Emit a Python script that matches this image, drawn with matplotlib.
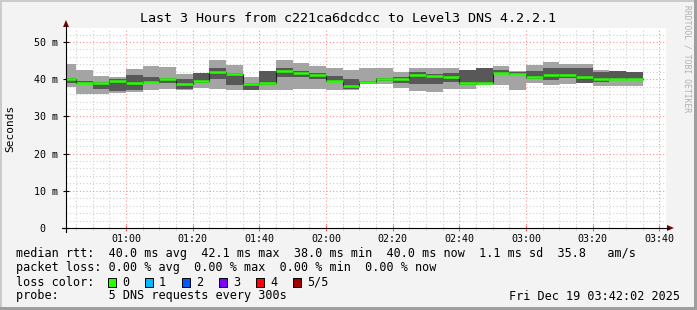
import matplotlib
matplotlib.use("Agg")
import matplotlib.pyplot as plt
from matplotlib.lines import Line2D
from matplotlib.patches import Polygon, Rectangle
import numpy as np

W, H = 697, 310

# --- data (5 DNS pings per 5 min step, values in ms) ---
# step start times in minutes after midnight; first step is cut by the window start
t_window = (42 + 2 / 60, 222 + 2 / 60)
t_edges = np.concatenate([[t_window[0]], np.arange(45, 216, 5)])

ping_min = [38.0, 36.0, 36.0, 36.4, 36.6, 37.1, 37.3, 37.2, 37.7, 37.4, 37.1, 37.0,
            37.1, 37.1, 37.3, 37.5, 37.1, 37.0, 38.6, 38.6, 37.7, 36.9, 36.6, 37.4,
            37.3, 38.5, 38.4, 37.1, 38.9, 38.4, 38.6, 39.0, 38.2, 38.2, 38.2]
ping_lo = [39.1, 38.8, 37.4, 36.8, 37.0, 38.9, 39.1, 37.4, 38.9, 40.0, 38.4, 37.1,
           38.4, 40.7, 40.7, 40.0, 39.2, 37.4, 38.9, 39.5, 38.9, 38.6, 38.6, 39.2,
           38.4, 38.7, 41.6, 41.2, 40.0, 39.8, 40.2, 39.1, 39.3, 39.9, 39.8]
median = [40.0, 39.1, 39.1, 39.6, 39.0, 39.3, 40.0, 38.6, 39.4, 42.0, 41.4, 38.6,
          39.1, 42.1, 41.8, 41.2, 39.6, 38.1, 39.2, 40.0, 40.0, 41.2, 40.9, 40.7,
          39.1, 38.9, 41.8, 41.4, 40.7, 41.2, 41.2, 40.7, 40.0, 40.0, 40.0]
ping_hi = [40.3, 39.4, 39.2, 40.0, 41.1, 40.7, 40.3, 40.0, 41.6, 42.9, 41.6, 39.0,
           42.1, 42.9, 42.3, 41.8, 40.9, 40.0, 39.4, 40.3, 40.5, 42.0, 41.4, 41.8,
           42.5, 42.9, 42.5, 42.0, 42.3, 42.9, 42.9, 42.9, 42.0, 42.2, 41.9]
ping_max = [44.1, 42.5, 40.9, 40.6, 42.7, 43.6, 43.2, 41.4, 41.7, 45.2, 43.8, 40.5,
            42.2, 45.2, 44.4, 43.6, 42.9, 42.5, 42.9, 42.9, 42.0, 42.9, 42.9, 42.9,
            42.6, 43.0, 43.5, 42.1, 43.8, 44.5, 44.1, 44.1, 42.5, 42.3, 42.0]

x_ticks = [60, 80, 100, 120, 140, 160, 180, 200, 220]
x_labels = ["01:00", "01:20", "01:40", "02:00", "02:20", "02:40", "03:00", "03:20", "03:40"]
y_ticks = [0, 10, 20, 30, 40, 50]
y_labels = ["0  ", "10 m", "20 m", "30 m", "40 m", "50 m"]

loss_labels = ["0", "1", "2", "3", "4", "5/5"]
loss_colors = ["#26ff00", "#00b8ff", "#0059ff", "#7e00ff", "#ff0000", "#a10000"]

title = "Last 3 Hours from c221ca6dcdcc to Level3 DNS 4.2.2.1"
legend_lines = [
    "median rtt:  40.0 ms avg  42.1 ms max  38.0 ms min  40.0 ms now  1.1 ms sd  35.8   am/s",
    "packet loss: 0.00 % avg  0.00 % max  0.00 % min  0.00 % now",
    "loss color:",
    "probe:       5 DNS requests every 300s",
]
stamp = "Fri Dec 19 03:42:02 2025"

MONO = "DejaVu Sans Mono"
plt.rcParams["font.family"] = MONO


def fx(x):
    return x / W


def fy(y):
    return 1 - y / H


fig = plt.figure(figsize=(W / 100, H / 100), dpi=100)
fig.patch.set_facecolor("#f3f3f3")

# frame shading like rrdtool
fig.add_artist(Rectangle((0, fy(2)), 1, 2 / H, transform=fig.transFigure, color="#cbcbcb", lw=0))
fig.add_artist(Rectangle((0, 0), 2 / W, 1, transform=fig.transFigure, color="#cbcbcb", lw=0))
fig.add_artist(Rectangle((fx(W - 3), 0), 3 / W, 1, transform=fig.transFigure, color="#9e9e9e", lw=0))
fig.add_artist(Rectangle((0, 0), 1, 3 / H, transform=fig.transFigure, color="#9e9e9e", lw=0))

ax = fig.add_axes([fx(66), fy(228), 600 / W, 200 / H])
ax.set_facecolor("white")
ax.set_xlim(*t_window)
ax.set_ylim(0, 200 / 3.72)

# grid (below data)
for m in np.arange(45, 222, 5):
    c = "#ff9090" if m % 20 == 0 else "#d0d0d0"
    ax.axvline(m, color=c, lw=0.8, ls=(0, (1, 2)), zorder=0)
for v in np.arange(2, 54, 2):
    c = "#ff9090" if v % 10 == 0 else "#d0d0d0"
    ax.axhline(v, color=c, lw=0.8, ls=(0, (1, 2)), zorder=0)

left = t_edges[:-1]
widths = np.diff(t_edges)
ping_min = np.array(ping_min)
ping_max = np.array(ping_max)
ping_lo = np.array(ping_lo)
ping_hi = np.array(ping_hi)
median = np.array(median)

# smoke
ax.bar(left, ping_max - ping_min, bottom=ping_min, width=widths, align="edge",
       color="#a4a4a4", lw=0, zorder=2)
ax.bar(left, ping_hi - ping_lo, bottom=ping_lo, width=widths, align="edge",
       color="#585858", lw=0, zorder=3)
# median: dark step line + loss colored bars
ax.step(t_edges, np.append(median, median[-1]), where="post", color="#202020", lw=0.8, zorder=4)
ax.hlines(median, left, t_edges[1:], color=loss_colors[0], lw=1.8, zorder=5, capstyle="butt")

for s in ax.spines.values():
    s.set_visible(False)

ax.set_xticks(x_ticks)
ax.set_xticklabels(x_labels)
ax.set_xticks(np.arange(45, 222, 5), minor=True)
ax.set_yticks(y_ticks)
ax.set_yticklabels(y_labels)
ax.tick_params(axis="x", which="major", direction="inout", length=4, color="#ff6060",
               labelsize=7.2, pad=2.5)
ax.tick_params(axis="x", which="minor", direction="inout", length=3, color="#c0c0c0")
ax.tick_params(axis="y", which="major", direction="inout", length=5, color="black",
               labelsize=7.2, pad=3)

# axes with arrows
fig.add_artist(Line2D([fx(66), fx(66)], [fy(232), fy(25)], transform=fig.transFigure,
                      color="black", lw=0.8))
fig.add_artist(Line2D([fx(62), fx(669)], [fy(228), fy(228)], transform=fig.transFigure,
                      color="black", lw=0.8))
fig.add_artist(Polygon([(fx(66), fy(20)), (fx(63), fy(27)), (fx(69), fy(27))],
                       transform=fig.transFigure, color="#800000", lw=0))
fig.add_artist(Polygon([(fx(674), fy(228)), (fx(667), fy(225)), (fx(667), fy(231))],
                       transform=fig.transFigure, color="#800000", lw=0))

fig.text(fx(348.5), fy(19), title, ha="center", va="center", fontsize=9.6)
fig.text(fx(10), fy(128), "Seconds", rotation=90, ha="center", va="center", fontsize=8)
fig.text(fx(687), fy(5), "RRDTOOL / TOBI OETIKER", rotation=270, ha="center", va="top",
         fontsize=5.8, color="#b0b0b0")

for i, line in enumerate(legend_lines):
    fig.text(fx(16), fy(254 + 14 * i), line, ha="left", va="center", fontsize=8.5)

for i, (lab, col) in enumerate(zip(loss_labels, loss_colors)):
    bx = 108 + 37 * i
    fig.add_artist(Rectangle((fx(bx), fy(287)), 8 / W, 9 / H, transform=fig.transFigure,
                             facecolor=col, edgecolor="black", lw=0.7))
    fig.text(fx(bx + 14), fy(282), lab, ha="left", va="center", fontsize=8.5)

fig.text(fx(680), fy(296), stamp, ha="right", va="center", fontsize=8.5)

fig.savefig("out.png", dpi=100, facecolor=fig.get_facecolor())
